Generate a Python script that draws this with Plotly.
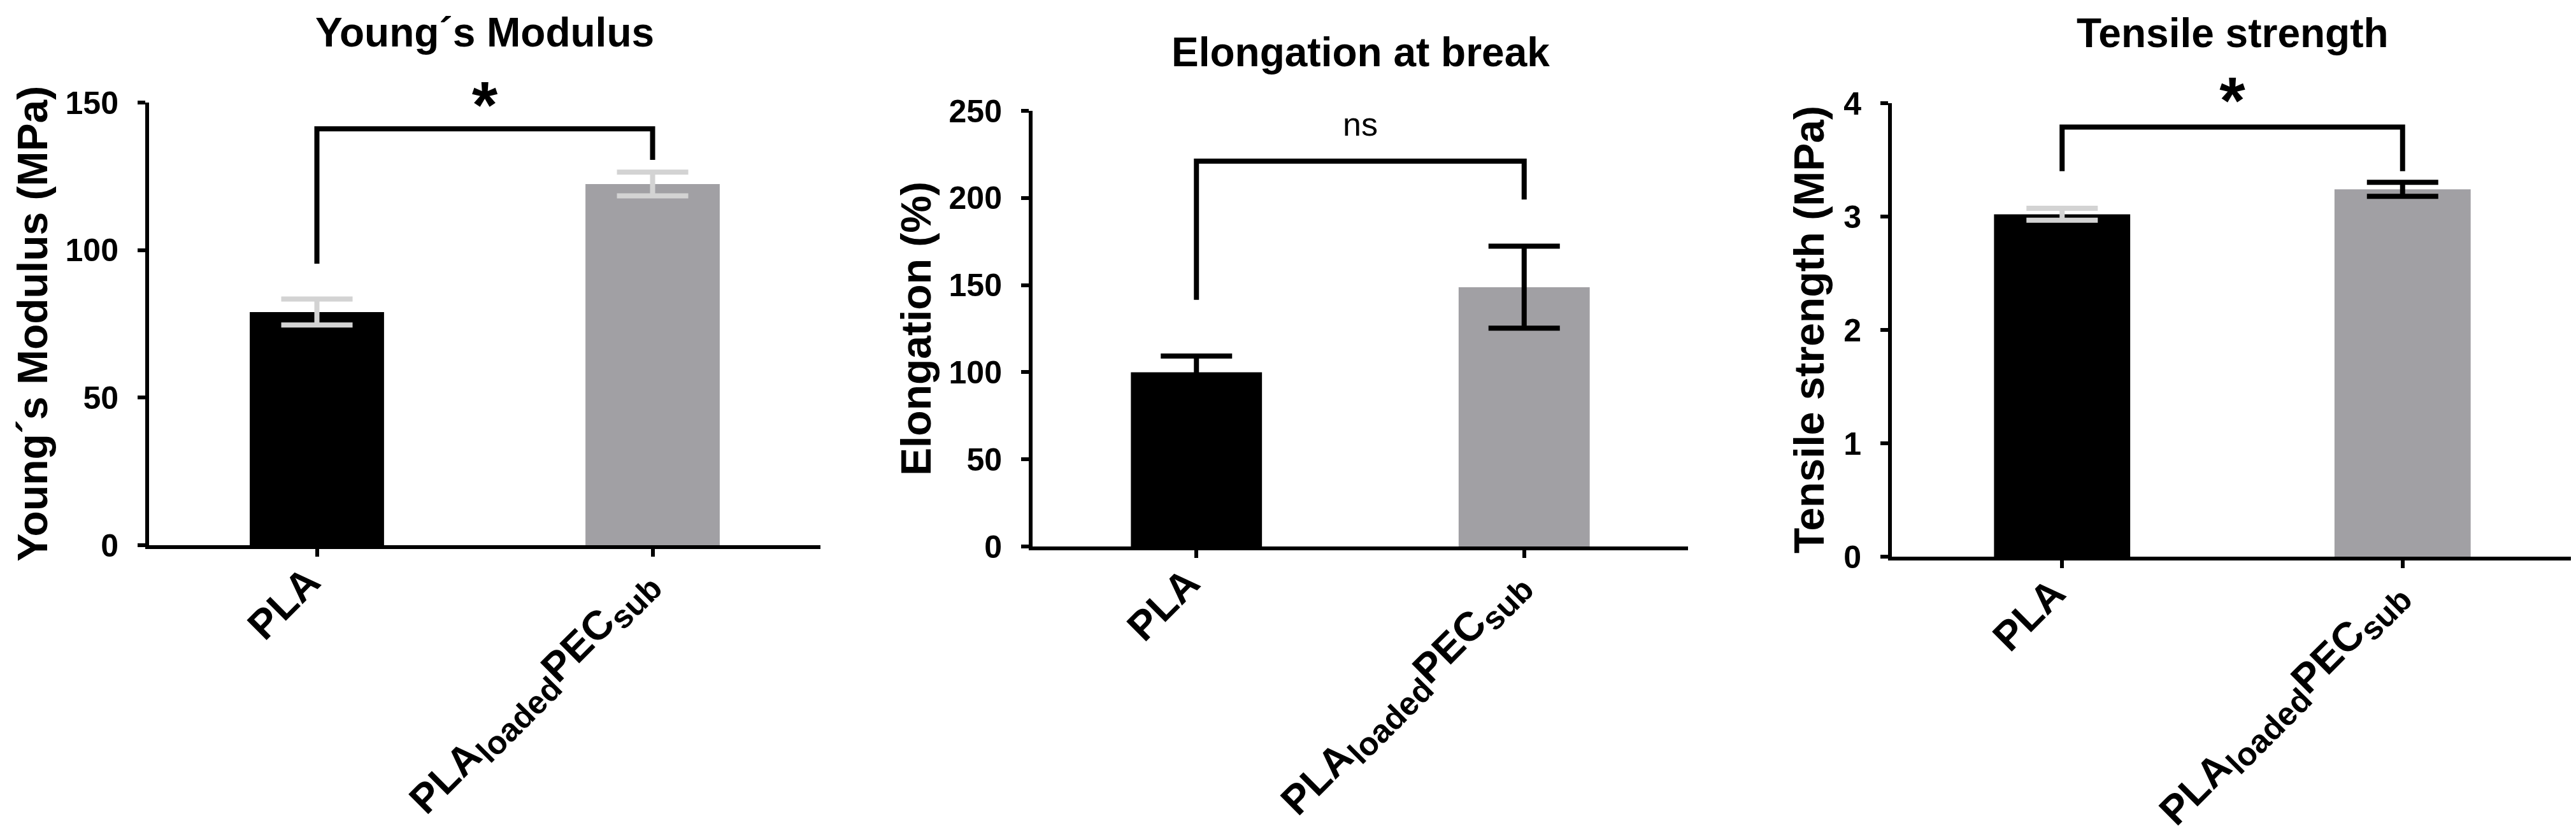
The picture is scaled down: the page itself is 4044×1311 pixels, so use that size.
import plotly.graph_objects as go

# ---------------- data ----------------
SUBF = 'style="font-size:51px"'
categories = ["PLA",
              f"PLA<sub><span {SUBF}>loaded</span></sub>PEC<sub><span {SUBF}>sub</span></sub>"]
cat_pos = [0, 1]
panel_titles = ["Young´s Modulus", "Elongation at break", "Tensile strength"]
y_titles = ["Young´s Modulus (MPa)", "Elongation (%)", "Tensile strength (MPa)"]

young_mean = [79.0, 122.4]
young_err = [4.4, 4.0]
elong_mean = [100.0, 148.8]
elong_err = [9.3, 23.5]
tensile_mean = [3.02, 3.24]
tensile_err = [0.053, 0.062]

young_ticks = [0, 50, 100, 150]
elong_ticks = [0, 50, 100, 150, 200, 250]
tensile_ticks = [0, 1, 2, 3, 4]

# significance brackets: [left leg bottom, top, top, right leg bottom]
young_bracket = [95.4, 141.1, 141.1, 130.6]
elong_bracket = [141.5, 221.1, 221.1, 199.1]
tensile_bracket = [3.40, 3.79, 3.79, 3.40]
bracket_x = [0, 0, 1, 1]

significance = ["*", "ns", "*"]
sig_y = [147.0, 240.5, 3.965]   # label anchor positions
sig_x = [0.5]

# ---------------- style ----------------
W, H = 4044, 1311
FONT = "Liberation Sans, Arial, sans-serif"
BLACK = "#000000"
GRAY = "#A1A0A4"
LIGHT = "#D3D3D3"
bar_colors = [BLACK, GRAY]
err_colors = [[LIGHT, LIGHT], [BLACK, BLACK], [LIGHT, BLACK]]

# pixel geometry of each plot area (left, right, y of zero, y of top)
geo = [(226, 1280, 848, 153), (1613, 2642, 850, 166), (2962, 4031, 866, 154)]
title_baseline = [65, 96, 66]
ytitle_baseline_x = [73, 1461, 2863]

panels = [
    (young_mean, young_err, young_ticks, young_bracket),
    (elong_mean, elong_err, elong_ticks, elong_bracket),
    (tensile_mean, tensile_err, tensile_ticks, tensile_bracket),
]

fig = go.Figure()
annotations = []

for i, (means, errs, ticks, bracket) in enumerate(panels):
    n = i + 1
    xa = "x" if n == 1 else f"x{n}"
    ya = "y" if n == 1 else f"y{n}"
    left, right, y0, ytop = geo[i]

    for j in range(len(categories)):
        fig.add_trace(go.Bar(
            x=[cat_pos[j]], y=[means[j]], width=0.4,
            marker=dict(color=bar_colors[j], line=dict(width=0)),
            error_y=dict(type="data", array=[errs[j]], visible=True,
                         color=err_colors[i][j], thickness=8, width=56),
            xaxis=xa, yaxis=ya, showlegend=False, hoverinfo="skip",
        ))

    fig.add_trace(go.Scatter(
        x=bracket_x, y=bracket, mode="lines",
        line=dict(color=BLACK, width=8),
        xaxis=xa, yaxis=ya, showlegend=False, hoverinfo="skip", cliponaxis=False,
    ))

    is_star = significance[i] == "*"
    fig.add_trace(go.Scatter(
        x=sig_x, y=[sig_y[i]], mode="text", text=[significance[i]],
        textposition="middle center",
        textfont=dict(family=FONT, size=(104 if is_star else 52), color=BLACK,
                      weight=("bold" if is_star else "normal")),
        xaxis=xa, yaxis=ya, showlegend=False, hoverinfo="skip", cliponaxis=False,
    ))

    xdom = [left / W, right / W]
    ydom = [1 - y0 / H, 1 - ytop / H]
    axis_common = dict(showline=True, linewidth=6, linecolor=BLACK, ticks="outside",
                       ticklen=12, tickwidth=6, tickcolor=BLACK, showgrid=False,
                       zeroline=False, mirror=False, automargin=False, fixedrange=True)
    fig.update_layout({
        ("xaxis" if n == 1 else f"xaxis{n}"): dict(
            domain=xdom, anchor=ya, range=[-0.5, 1.5],
            tickvals=cat_pos, ticktext=categories, tickangle=-45,
            tickfont=dict(family=FONT, size=64, color=BLACK, weight="bold"),
            ticklabelstandoff=-24, ticklabelshift=-14, **axis_common),
        ("yaxis" if n == 1 else f"yaxis{n}"): dict(
            domain=ydom, anchor=xa, range=[ticks[0], ticks[-1]],
            tickvals=ticks, ticktext=[str(t) for t in ticks],
            tickfont=dict(family=FONT, size=50, color=BLACK, weight="bold"),
            ticklabelstandoff=20, **axis_common),
    })

    cx = (left + right) / 2
    # panel title
    annotations.append(dict(
        text=f"<b>{panel_titles[i]}</b>", xref="paper", yref="paper",
        x=cx / W, y=1 - (title_baseline[i] - 22) / H, xanchor="center", yanchor="middle",
        showarrow=False, font=dict(family=FONT, size=64, color=BLACK)))
    # y title
    annotations.append(dict(
        text=f"<b>{y_titles[i]}</b>", xref="paper", yref="paper", textangle=-90,
        x=(ytitle_baseline_x[i] - 31) / W, y=1 - ((y0 + ytop) / 2) / H,
        xanchor="center", yanchor="middle",
        showarrow=False, font=dict(family=FONT, size=66, color=BLACK)))

fig.update_layout(
    width=W, height=H, margin=dict(l=0, r=0, t=0, b=0, autoexpand=False),
    paper_bgcolor="white", plot_bgcolor="white",
    barmode="overlay", showlegend=False, annotations=annotations,
    font=dict(family=FONT, color=BLACK),
)

fig.write_html("out.html")
